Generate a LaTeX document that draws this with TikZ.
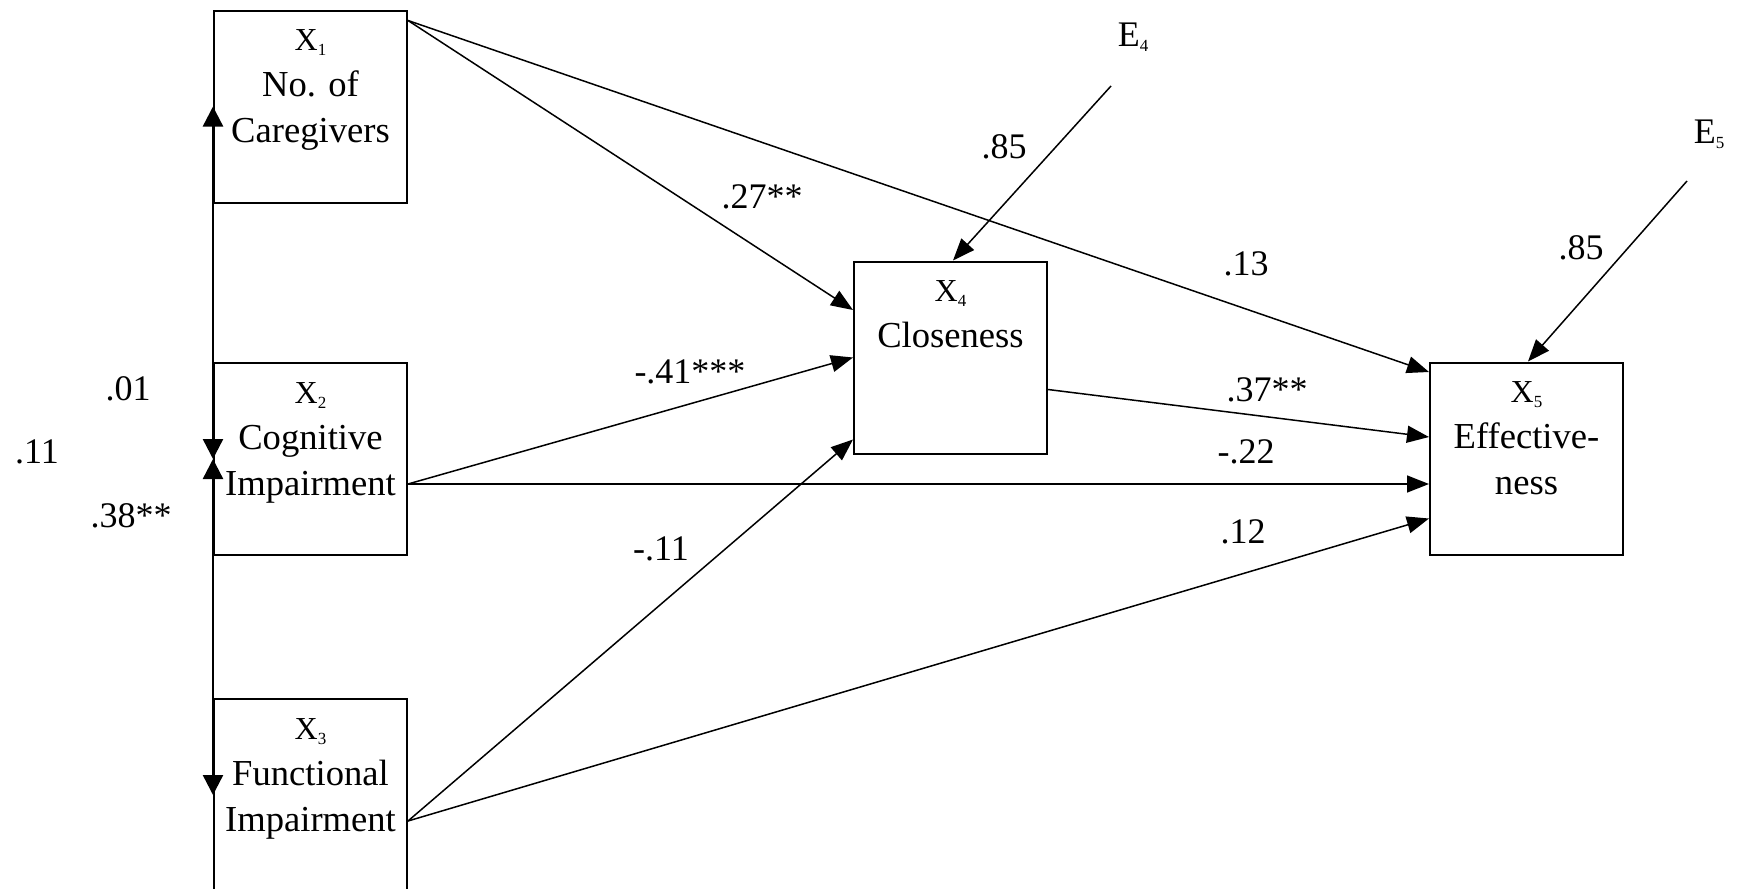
\documentclass[tikz,border=0pt]{standalone}
\usepackage{fontspec}
\setmainfont{Liberation Serif}
\usetikzlibrary{arrows.meta,calc}
\newcommand\sbx[1]{\raisebox{-2.5pt}{\fontsize{8.5}{9}\selectfont #1}}
\begin{document}
\begin{tikzpicture}[x=0.5pt,y=-0.5pt,
  box/.style={draw, line width=1pt, minimum width=96.5pt, minimum height=96pt, inner sep=0pt},
  boxtext/.style={anchor=north, align=center, font=\fontsize{18.3}{23}\selectfont, inner sep=0pt},
  lbl/.style={font=\fontsize{18}{21}\selectfont, inner sep=0pt},
  conn/.style={line width=0.75pt, -{Triangle[length=11pt,width=8.5pt]}},
  corr/.style={line width=1.2pt, {Triangle[length=10pt,width=10pt]}-{Triangle[length=10pt,width=10pt]}}
]
\useasboundingbox (0,0) rectangle (1737,889);

% boxes
\node[box] (x1) at (310.5,106.5) {};
\node[box] (x2) at (310.5,459) {};
\node[box] (x3) at (310.5,795) {};
\node[box] (x4) at (950.5,357.5) {};
\node[box] (x5) at (1526.5,458.5) {};

% box texts
\node[boxtext] (x1t) at ([yshift=-10pt]x1.north) {{\fontsize{16}{23}\selectfont X\sbx{1}}\\No. of\\Caregivers};
\node[boxtext] (x2t) at ([yshift=-10pt]x2.north) {{\fontsize{16}{23}\selectfont X\sbx{2}}\\Cognitive\\Impairment};
\node[boxtext] (x3t) at ([yshift=-10pt]x3.north) {{\fontsize{16}{23}\selectfont X\sbx{3}}\\Functional\\Impairment};
\node[boxtext] (x4t) at ([yshift=-10pt]x4.north) {{\fontsize{16}{23}\selectfont X\sbx{4}}\\Closeness};
\node[boxtext] (x5t) at ([yshift=-10pt]x5.north) {{\fontsize{16}{23}\selectfont X\sbx{5}}\\Effective-\\ness};

% error terms
\node[lbl] (e4) at (1133,37) {E\sbx{4}};
\node[lbl] (e5) at (1709,134) {E\sbx{5}};
\coordinate (e4s) at (1111,86);
\coordinate (e5s) at (1687,181);

% start points
\coordinate (s1) at ($(x1.north east)+(0,11)$);
\coordinate (s2) at ($(x2.east)+(0,25)$);
\coordinate (s3) at ($(x3.east)+(0,26)$);
\coordinate (s4) at ($(x4.east)+(0,32)$);

% paths
\draw[conn] (s1) -- ($(x4.west)+(0,-47.5)$);
\draw[conn] (s1) -- ($(x5.west)+(0,-86.5)$);
\draw[conn] (s2) -- (x4.west);
\draw[conn] (s2) -- (s2 -| x5.west);
\draw[conn] (s3) -- ($(x4.west)+(0,82)$);
\draw[conn] (s3) -- ($(x5.west)+(0,60)$);
\draw[conn] (s4) -- ($(x5.west)+(0,-21.5)$);
\draw[conn] (e4s) -- ($(x4.north)+(2.5,0)$);
\draw[conn] (e5s) -- ($(x5.north)+(1.5,0)$);

% correlations
\draw[corr] (x1.west) -- (x2.west);
\draw[corr] (x2.west) -- (x3.west);

% labels
\node[lbl] (l1) at (762,197) {.27**};
\node[lbl] (l2) at (1004,147) {.85};
\node[lbl] (l3) at (1246,264) {.13};
\node[lbl] (l4) at (1581,248) {.85};
\node[lbl] (l5) at (690,372) {-.41***};
\node[lbl] (l6) at (1267,390) {.37**};
\node[lbl] (l7) at (1246,452) {-.22};
\node[lbl] (l8) at (1243,532) {.12};
\node[lbl] (l9) at (661,549) {-.11};
\node[lbl] (l10) at (128,389) {.01};
\node[lbl] (l11) at (37,452) {.11};
\node[lbl] (l12) at (131,516) {.38**};
\end{tikzpicture}
\end{document}
